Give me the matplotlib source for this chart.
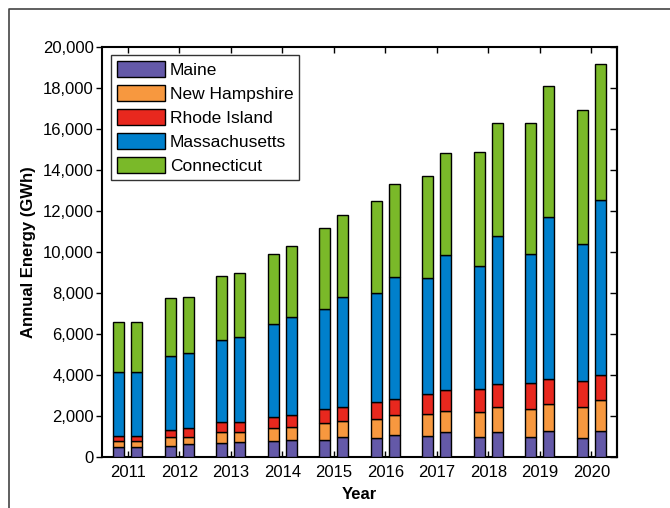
import matplotlib
matplotlib.use("Agg")
import matplotlib.pyplot as plt
import numpy as np
from matplotlib.lines import Line2D
from matplotlib.ticker import FuncFormatter

plt.rcParams['font.family'] = ['Liberation Sans', 'DejaVu Sans']

years = ['2011', '2012', '2013', '2014', '2015', '2016', '2017', '2018', '2019', '2020']
states = ['Maine', 'New Hampshire', 'Rhode Island', 'Massachusetts', 'Connecticut']
colors = ['#6459a8', '#f7983f', '#e8281e', '#0080cc', '#7ab929']

# first bar of each year (GWh)
maine_a = [503, 551, 683, 797, 846, 927, 1024, 992, 976, 910]
nh_a = [262, 439, 520, 634, 829, 927, 1057, 1187, 1349, 1513]
ri_a = [275, 327, 488, 536, 650, 813, 992, 1122, 1269, 1301]
ma_a = [3090, 3625, 4016, 4505, 4895, 5317, 5659, 6016, 6308, 6650]
ct_a = [2455, 2798, 3107, 3430, 3967, 4504, 4975, 5561, 6374, 6553]

# second bar of each year (GWh)
maine_b = [503, 618, 732, 846, 976, 1073, 1203, 1203, 1252, 1252]
nh_b = [262, 382, 471, 634, 764, 960, 1057, 1220, 1350, 1528]
ri_b = [275, 430, 488, 552, 683, 813, 992, 1122, 1219, 1220]
ma_b = [3090, 3627, 4179, 4781, 5382, 5950, 6586, 7235, 7886, 8520]
ct_b = [2455, 2748, 3106, 3464, 3983, 4504, 4991, 5513, 6391, 6634]

series_a = [maine_a, nh_a, ri_a, ma_a, ct_a]
series_b = [maine_b, nh_b, ri_b, ma_b, ct_b]

fig = plt.figure(figsize=(6.7, 5.08), dpi=100)
ax = fig.add_axes([102/670, 51/508, 515/670, 410/508])

x = np.arange(len(years))
off = 0.173
w = 0.21
for series, dx in ((series_a, -off), (series_b, off)):
    bottom = np.zeros(len(years))
    for vals, c, name in zip(series, colors, states):
        ax.bar(x + dx, vals, w, bottom=bottom, color=c, edgecolor='black',
               linewidth=1.0, label=name if dx < 0 else None, zorder=3)
        bottom += np.array(vals)

ax.set_xlim(-0.5, 9.5)
ax.set_ylim(0, 20000)
ax.set_xticks(x)
ax.set_xticklabels(years)
ax.set_yticks(np.arange(0, 20001, 2000))
ax.yaxis.set_major_formatter(FuncFormatter(lambda v, p: f'{int(v):,}'))
ax.tick_params(axis='x', direction='in', top=True, length=4, width=1, labelsize=12, pad=6)
ax.tick_params(axis='y', direction='out', length=4, width=1, labelsize=12, pad=2)
for s in ax.spines.values():
    s.set_linewidth(1.5)

sec = ax.secondary_yaxis('right')
sec.set_yticks(np.arange(0, 20001, 2000))
sec.tick_params(direction='in', length=5, width=1, labelright=False)
sec.spines['right'].set_linewidth(1.5)

ax.set_xlabel('Year', fontsize=12, fontweight='bold', labelpad=5)
ax.set_ylabel('Annual Energy (GWh)', fontsize=12, fontweight='bold', labelpad=5)

leg = ax.legend(loc='upper left', bbox_to_anchor=(0.017, 0.98), borderaxespad=0,
                prop={'size': 12.5}, frameon=True, fancybox=False, edgecolor='black',
                handlelength=2.8, handleheight=1.05, labelspacing=0.4,
                handletextpad=0.25, borderpad=0.35)
leg.get_frame().set_linewidth(1.0)
leg.set_zorder(5)

fig.add_artist(Line2D([9/670, 9/670, 1.0], [0.0, 1 - 9/508, 1 - 9/508],
                      transform=fig.transFigure, color='#444444', linewidth=1.2))

fig.savefig('out.png', dpi=100)
